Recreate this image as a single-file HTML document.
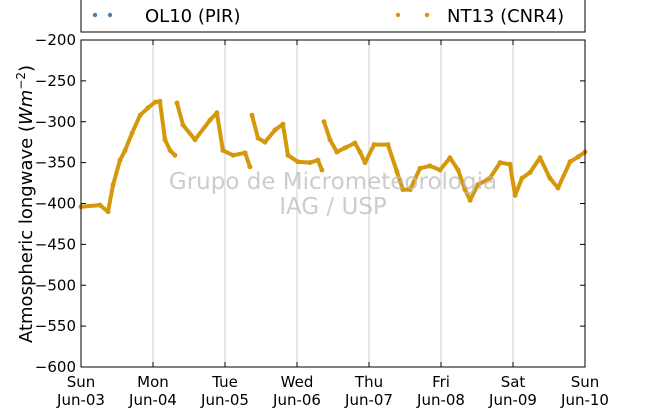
<!DOCTYPE html>
<html><head><meta charset="utf-8"><style>
body{margin:0;background:#fff;font-family:"Liberation Sans",sans-serif}
svg text{font-family:"DejaVu Sans","Liberation Sans",sans-serif}
</style></head><body>
<svg id="c" width="650" height="409" xmlns="http://www.w3.org/2000/svg">
<rect x="81" y="-6" width="504" height="38" fill="#fff" stroke="#000"/>
<g>
<circle cx="95" cy="15" r="2.2" fill="#4c7fb0"/><circle cx="110" cy="15" r="2.2" fill="#4c7fb0"/>
<text x="145" y="22" font-size="18">OL10 (PIR)</text></g>
<g>
<circle cx="398" cy="15" r="2.2" fill="#d4980a"/><circle cx="427" cy="15" r="2.2" fill="#d4980a"/>
<text x="447" y="22" font-size="18">NT13 (CNR4)</text></g>
<g id="grid"></g><g id="series"></g><g id="axes"></g>
<g fill="#bbb" fill-opacity="0.75" font-size="23" text-anchor="middle">
<text x="333" y="189">Grupo de Micrometeorologia</text><text x="333" y="214">IAG / USP</text></g>
<text transform="translate(32,204) rotate(-90)" font-size="18" text-anchor="middle">Atmospheric longwave (<tspan font-style="italic">Wm</tspan><tspan font-size="12" dy="-7">−2</tspan><tspan dy="7">)</tspan></text>
</svg>
<script>
const hours=[0,6.3,9,10.7,13,14.7,17,19.7,22.3,24.7,26.3,28,29.7,31.3,32,34,38,43,45.3,47.3,50.7,54.7,56.3,57,59,61.3,64.7,67.3,69,72.3,76.3,79,80.3,81,83,85.3,88,91.3,93,94.7,97.7,102.3,105.3,107.3,109.7,113,116.3,119.7,123,125.7,128,129.7,132.3,136.3,139.7,143,144.7,147,149.7,153,156.3,159,163,165.7,168];
const values=[-404,-402,-410,-377,-347,-335,-314,-292,-283,-276,-275,-322,-335,-341,-277,-304,-322,-298,-289,-335,-341,-338,-355,-292,-320,-325,-310,-303,-341,-349,-350,-347,-359,-300,-322,-337,-332,-326,-337,-350,-328,-328,-361,-383,-383,-357,-354,-359,-344,-359,-383,-396,-377,-369,-350,-352,-390,-369,-362,-344,-369,-381,-349,-343,-337];
const breaks=[14,23,33];
const yTicks=[-200,-250,-300,-350,-400,-450,-500,-550,-600];
const dayNames=["Sun","Mon","Tue","Wed","Thu","Fri","Sat","Sun"];
const dayDates=["Jun-03","Jun-04","Jun-05","Jun-06","Jun-07","Jun-08","Jun-09","Jun-10"];
const NS="http://www.w3.org/2000/svg";
const X0=81,X1=585,Y0=40,Y1=367;
const xs=h=>X0+h/168*(X1-X0);
const ys=v=>Y0+(-200-v)/400*(Y1-Y0);
function mk(t,a,p){const e=document.createElementNS(NS,t);for(const k in a)e.setAttribute(k,a[k]);p.appendChild(e);return e;}
const grid=document.getElementById('grid'),axes=document.getElementById('axes'),ser=document.getElementById('series');
dayNames.forEach((d,i)=>{const x=xs(i*24);
 if(i>0&&i<7){const l=mk('line',{x1:x,x2:x,y1:Y0,y2:Y1,stroke:'#ccc'},grid);
 
 }
 const t=mk('text',{x:x,y:387,'font-size':15,'text-anchor':'middle'},axes);t.textContent=d;
 
 
 const t2=mk('text',{x:x,y:405,'font-size':15,'text-anchor':'middle'},axes);t2.textContent=dayDates[i];
 
 
 mk('line',{x1:x,x2:x,y1:Y1,y2:Y1-5,stroke:'#000'},axes);mk('line',{x1:x,x2:x,y1:Y0,y2:Y0+5,stroke:'#000'},axes);
});
yTicks.forEach(v=>{const y=ys(v);
 mk('line',{x1:X0,x2:X0+5,y1:y,y2:y,stroke:'#000'},axes);mk('line',{x1:X1,x2:X1-5,y1:y,y2:y,stroke:'#000'},axes);
 const t=mk('text',{x:76,y:y+5,'font-size':15,'text-anchor':'end'},axes);t.textContent=(v<0?'\u2212'+(-v):v);
 
 
});
const fr=mk('rect',{x:X0,y:Y0,width:X1-X0,height:Y1-Y0,fill:'none',stroke:'#000'},axes);


let d='';
hours.forEach((h,i)=>{d+=(i===0||breaks.includes(i)?'M':'L')+xs(h).toFixed(1)+' '+ys(values[i]).toFixed(1)+' ';});
const p=mk('path',{d:d,fill:'none',stroke:'#d4980a','stroke-width':4,'stroke-linejoin':'round','stroke-linecap':'round'},ser);


hours.forEach((h,i)=>{const c=mk('circle',{cx:xs(h),cy:ys(values[i]),r:2.5,fill:'#d4980a'},ser);
 
 });
</script>
</body></html>
